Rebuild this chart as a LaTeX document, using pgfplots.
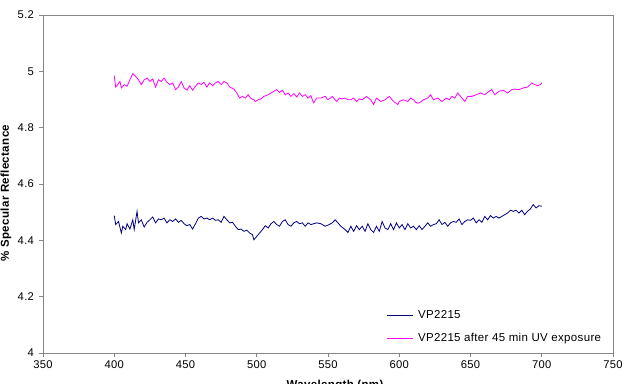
\documentclass[border=0pt]{standalone}
\usepackage{pgfplots}
\pgfplotsset{compat=1.18}
\usepackage{fontspec}
\setmainfont{Liberation Sans}[LetterSpace=3]

\definecolor{vpnavy}{RGB}{0,0,128}
\definecolor{vpmag}{RGB}{255,0,255}
\definecolor{framegray}{RGB}{134,134,134}

\begin{document}
\begin{tikzpicture}
\fontsize{11.5}{13}\selectfont
\begin{axis}[
  at={(43pt,30pt)}, anchor=south west,
  scale only axis,
  width=570pt, height=338pt,
  xmin=350, xmax=750, ymin=4, ymax=5.2,
  xtick={350,400,...,750},
  ytick={4,4.2,4.4,4.6,4.8,5,5.2},
  yticklabels={4,4.2,4.4,4.6,4.8,5,5.2},
  /pgf/number format/set thousands separator={},
  /pgf/number format/assume math mode=true,
  tick align=outside, tick pos=left,
  major tick length=4pt,
  axis line style={framegray, line width=0.8pt},
  every tick/.style={framegray, line width=0.8pt},
  tick label style={font=\fontsize{11.2}{13}\selectfont, text=black},
  yticklabel style={xshift=-1pt},
  xlabel={Wavelength (nm)},
  ylabel={\% Specular Reflectance},
  every axis x label/.style={at={(axis description cs:0.5,0)}, anchor=north, yshift=-27pt, xshift=7pt, inner sep=0pt, font=\bfseries\fontsize{11.5}{13}\selectfont},
  every axis y label/.style={at={(axis description cs:0,0.5)}, rotate=90, anchor=center, xshift=-9pt, yshift=37pt, font=\bfseries\fontsize{11.5}{13}\selectfont},
  legend style={at={(rel axis cs:0.5965,0.137)}, anchor=north west, draw=none, fill=none,
    font=\fontsize{11.5}{13}\selectfont, row sep=10pt,
    nodes={inner sep=1pt, text height=8.5pt, text depth=2.5pt},
    /tikz/every odd column/.append style={column sep=4pt}},
  legend cell align=left,
  legend image code/.code={\draw[#1] (0pt,0pt) -- (26pt,0pt);},
]
% VP2215 as received
\addplot[vpnavy, line width=0.8pt] coordinates {
(400,4.488) (401,4.456) (403,4.467) (405,4.426) (406,4.450) (408,4.438) (409,4.459)
(411,4.440) (413,4.473) (414,4.438) (416,4.503) (417,4.462) (419,4.473) (421,4.447)
(423,4.464) (425,4.473) (427,4.483) (429,4.462) (431,4.476) (433,4.473) (435,4.479)
(437,4.462) (439,4.473) (441,4.467) (443,4.476) (445,4.464) (447,4.471) (449,4.459)
(451,4.452) (453,4.456) (455,4.440) (457,4.459) (459,4.479) (461,4.485) (463,4.476)
(465,4.479) (467,4.473) (469,4.479) (471,4.471) (473,4.473) (475,4.464) (477,4.485)
(479,4.473) (481,4.462) (483,4.464) (485,4.450) (487,4.438) (489,4.440) (491,4.432)
(493,4.436) (495,4.426) (497,4.420) (498,4.402) (500,4.414) (502,4.426) (504,4.438)
(506,4.452) (508,4.444) (510,4.459) (512,4.467) (514,4.456) (516,4.450) (518,4.467)
(520,4.473) (522,4.456) (524,4.450) (526,4.462) (528,4.467) (530,4.459) (532,4.462)
(534,4.450) (536,4.462) (538,4.456) (540,4.459) (542,4.462) (545,4.459) (548,4.450)
(550,4.454) (553,4.462) (555,4.473) (557,4.462) (559,4.450) (562,4.438) (564,4.428)
(566,4.450) (568,4.432) (570,4.452) (572,4.438) (574,4.450) (576,4.432) (578,4.459)
(580,4.438) (582,4.428) (584,4.450) (586,4.432) (588,4.467) (590,4.444) (592,4.438)
(594,4.459) (596,4.438) (598,4.462) (600,4.444) (602,4.456) (604,4.438) (606,4.459)
(608,4.444) (610,4.450) (612,4.438) (614,4.452) (616,4.438) (618,4.450) (620,4.462)
(622,4.450) (624,4.456) (626,4.459) (628,4.473) (630,4.456) (632,4.464) (634,4.450)
(636,4.462) (638,4.467) (640,4.464) (642,4.476) (644,4.456) (646,4.467) (648,4.473)
(650,4.471) (652,4.479) (654,4.462) (656,4.473) (658,4.464) (660,4.485) (662,4.473)
(664,4.488) (666,4.479) (668,4.485) (670,4.479) (672,4.485) (674,4.491) (676,4.497)
(678,4.507) (680,4.503) (682,4.507) (684,4.497) (686,4.507) (688,4.491) (690,4.503)
(692,4.511) (694,4.527) (696,4.515) (698,4.523) (700,4.521)
};
\addlegendentry{VP2215}
% VP2215 after UV exposure
\addplot[vpmag, line width=0.8pt] coordinates {
(400,4.985) (401,4.944) (402,4.950) (404,4.964) (405,4.941) (407,4.953) (409,4.947)
(411,4.970) (413,4.992) (415,4.982) (417,4.970) (419,4.953) (421,4.970) (423,4.976)
(425,4.964) (427,4.973) (429,4.944) (431,4.970) (433,4.964) (435,4.976) (437,4.961)
(439,4.953) (441,4.959) (443,4.935) (445,4.944) (447,4.964) (449,4.941) (451,4.933)
(453,4.949) (455,4.933) (457,4.947) (459,4.959) (461,4.953) (463,4.961) (465,4.944)
(467,4.959) (469,4.949) (471,4.959) (473,4.964) (475,4.953) (477,4.964) (479,4.959)
(481,4.944) (484,4.937) (486,4.923) (488,4.905) (490,4.911) (492,4.905) (494,4.917)
(496,4.903) (498,4.899) (499,4.893) (501,4.899) (503,4.902) (505,4.911) (508,4.917)
(510,4.923) (512,4.929) (514,4.935) (516,4.925) (518,4.933) (520,4.917) (522,4.923)
(524,4.911) (526,4.921) (528,4.909) (530,4.923) (532,4.911) (534,4.917) (536,4.905)
(538,4.914) (539,4.899) (540,4.888) (542,4.905) (545,4.905) (548,4.911) (550,4.899)
(553,4.911) (556,4.893) (558,4.905) (560,4.902) (562,4.905) (564,4.899) (566,4.899)
(568,4.905) (570,4.893) (572,4.902) (574,4.899) (577,4.911) (580,4.899) (582,4.882)
(584,4.905) (587,4.893) (590,4.899) (593,4.911) (596,4.893) (599,4.882) (600,4.893)
(603,4.899) (606,4.893) (608,4.905) (610,4.899) (612,4.888) (614,4.888) (617,4.899)
(620,4.905) (622,4.917) (624,4.899) (627,4.905) (630,4.893) (633,4.905) (635,4.899)
(637,4.911) (639,4.905) (641,4.923) (643,4.911) (646,4.893) (648,4.911) (651,4.911)
(654,4.917) (657,4.923) (660,4.917) (663,4.929) (665,4.935) (667,4.917) (670,4.929)
(673,4.933) (676,4.923) (679,4.935) (681,4.937) (684,4.935) (687,4.941) (690,4.944)
(693,4.959) (695,4.953) (697,4.949) (699,4.953) (700,4.959)
};
\addlegendentry{VP2215 after 45 min UV exposure}
\end{axis}
\pgfresetboundingbox
\useasboundingbox (0pt,0pt) rectangle (624pt,383pt);
\end{tikzpicture}
\end{document}
